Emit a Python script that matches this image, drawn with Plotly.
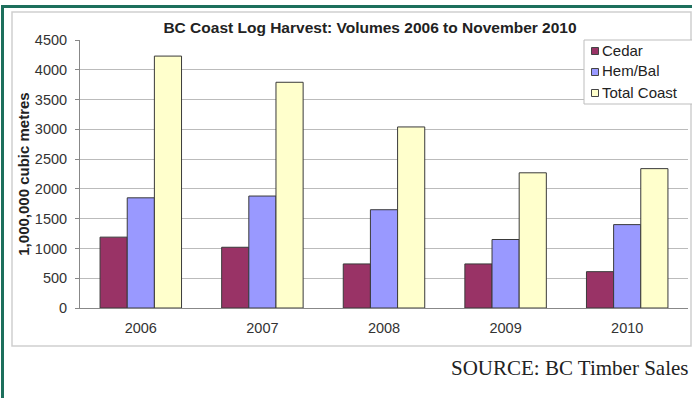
import plotly.graph_objects as go

years = ["2006", "2007", "2008", "2009", "2010"]
cedar = [1190, 1020, 740, 740, 610]
hem_bal = [1850, 1880, 1650, 1150, 1400]
total_coast = [4230, 3790, 3040, 2270, 2340]

series_names = ["Cedar", "Hem/Bal", "Total Coast"]
series_colors = ["#993366", "#9999FF", "#FFFFCC"]

W, H = 692, 398
ML, MR, MT, MB = 80, 4, 40, 90
PW, PH = W - ML - MR, H - MT - MB


def px(x):
    return (x - ML) / PW


def py(y):
    return (H - MB - y) / PH


fig = go.Figure()
for name, vals, color in zip(series_names, [cedar, hem_bal, total_coast], series_colors):
    fig.add_trace(go.Bar(
        x=years, y=vals, name=name, showlegend=False,
        marker=dict(color=color, line=dict(color="#3a3a3a", width=1)),
    ))

shapes = [
    # outer chart frame
    dict(type="rect", xref="paper", yref="paper",
         x0=px(12), x1=px(691), y0=py(346), y1=py(12),
         line=dict(color="#cfcfcf", width=1.5), layer="below"),
    # green page rules
    dict(type="line", xref="paper", yref="paper",
         x0=px(2), x1=px(692), y0=py(6.5), y1=py(6.5),
         line=dict(color="#1d6f5c", width=3)),
    dict(type="line", xref="paper", yref="paper",
         x0=px(2.5), x1=px(2.5), y0=py(5), y1=py(398),
         line=dict(color="#1d6f5c", width=3)),
    # legend box
    dict(type="rect", xref="paper", yref="paper",
         x0=px(584), x1=px(700), y0=py(104), y1=py(40),
         line=dict(color="#bdbdbd", width=1), fillcolor="white"),
]

annotations = [
    dict(text="SOURCE: BC Timber Sales", xref="paper", yref="paper",
         x=px(690), y=py(368), xanchor="right", yanchor="middle",
         showarrow=False,
         font=dict(family="Liberation Serif, Times New Roman, serif",
                   size=21, color="#222222")),
]

# legend entries: swatch + label
legend_rows = [51, 72, 93]
for name, color, yc in zip(series_names, series_colors, legend_rows):
    shapes.append(dict(type="rect", xref="paper", yref="paper",
                       x0=px(591.5), x1=px(598.5), y0=py(yc + 3.5), y1=py(yc - 3.5),
                       line=dict(color="#444444", width=1), fillcolor=color))
    annotations.append(dict(text=name, xref="paper", yref="paper",
                            x=px(600), y=py(yc - 1), xanchor="left", yanchor="middle",
                            showarrow=False,
                            font=dict(size=15, color="#222222")))

fig.update_layout(
    width=W, height=H,
    margin=dict(l=ML, r=MR, t=MT, b=MB),
    paper_bgcolor="white", plot_bgcolor="white",
    font=dict(family="Liberation Sans, Arial, sans-serif", size=14, color="#333333"),
    barmode="group", bargap=0.33, bargroupgap=0,
    title=dict(text="<b>BC Coast Log Harvest: Volumes 2006 to November 2010</b>",
               x=px(370), xref="paper", xanchor="center",
               y=1 - 28 / H, yanchor="middle",
               font=dict(size=15.5, color="#222222")),
    showlegend=False,
    xaxis=dict(showline=True, linecolor="#888888", linewidth=1,
               ticks="", tickfont=dict(size=14.5, color="#333333"),
               ticklabelstandoff=7, showgrid=False),
    yaxis=dict(range=[0, 4500], dtick=500, showline=True, linecolor="#888888",
               linewidth=1, ticks="outside", ticklen=4, tickcolor="#888888",
               ticklabelstandoff=5,
               gridcolor="#bbbbbb", gridwidth=1, zeroline=False,
               tickfont=dict(size=14.5, color="#333333"),
               title=dict(text="<b>1,000,000 cubic metres</b>", standoff=1,
                          font=dict(size=15, color="#222222"))),
    shapes=shapes,
    annotations=annotations,
)

fig.write_html("out.html")
